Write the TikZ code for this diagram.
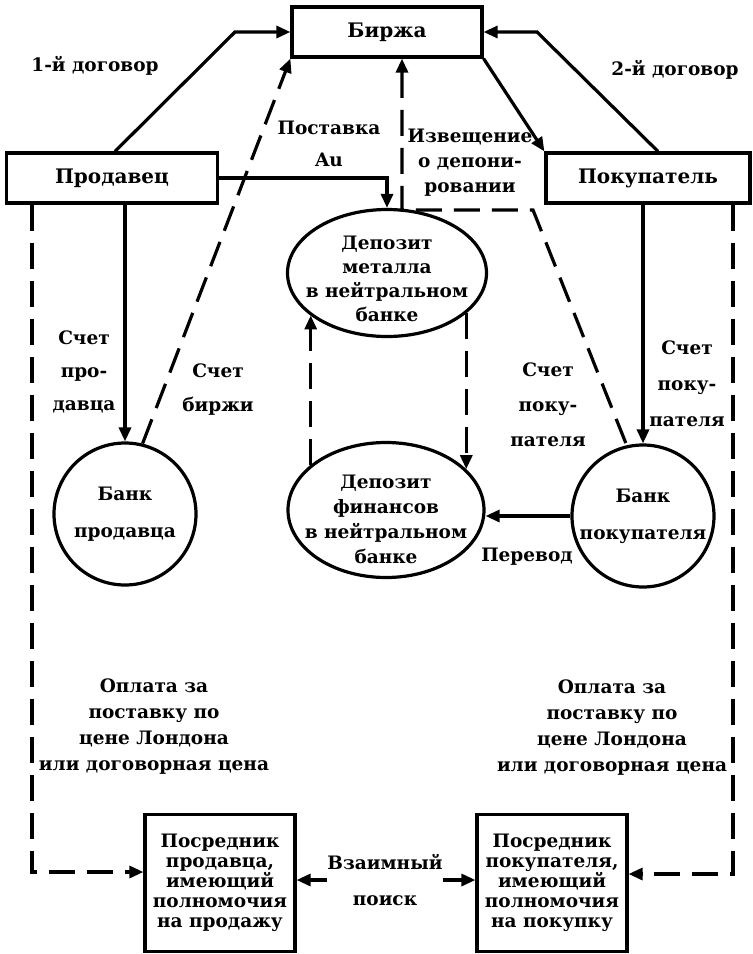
\documentclass[tikz,border=0pt]{standalone}
\usepackage{fontspec}
\setmainfont{DejaVu Serif}
\usepackage{tikz}
\usetikzlibrary{arrows.meta, calc, shapes.geometric, positioning}
\newcommand{\drawl}{\draw[line width=3.2pt]}
\newcommand{\drawd}{\draw[line width=3.2pt, dash pattern=on 26pt off 12pt]}
\newcommand{\sz}[1]{\fontsize{18.5}{#1}\selectfont\bfseries}

\begin{document}
\begin{tikzpicture}[x=1pt, y=-1pt, >={Triangle[length=14pt, width=12pt]},
  box/.style={draw, line width=3.2pt, minimum width=#1, minimum height=50pt, font=\fontsize{20}{24}\selectfont\bfseries},
  posr/.style={draw, line width=3.2pt, minimum width=150pt, minimum height=137pt, inner sep=0pt, font=\sz{20}, align=center},
  oval/.style={ellipse, draw, line width=3.2pt, inner sep=0pt},
  bank/.style={circle, draw, line width=3.2pt, minimum size=142pt, inner sep=0pt},
  txt/.style={font=\sz{#1}, align=center, inner sep=0pt}]
\useasboundingbox (0,0) rectangle (753,954);

%Участники
\node[box=190pt] (birzha) at (387,32) {Биржа};
\node[box=211pt] (prod) at (112,178) {Продавец};
\node[box=204pt] (pokup) at (648,178) {Покупатель};

%Депозиты
\node[oval, minimum width=199pt, minimum height=127pt,
  label={[txt=24, yshift=-6pt]center:{Депозит\\металла\\в нейтральном\\банке}}] (depmet) at (387,273) {};
\node[oval, minimum width=196pt, minimum height=135pt,
  label={[txt=25, yshift=-9pt]center:{Депозит\\финансов\\в нейтральном\\банке}}] (depfin) at (386,510) {};

%Банки
\node[bank, label={[txt=37]center:{Банк\\продавца}}] (bankprod) at (125,514) {};
\node[bank, label={[txt=37]center:{Банк\\покупателя}}] (bankpok) at (643,516) {};

%Посредники
\node[posr] (posprod) at (220,883) {Посредник\\продавца,\\имеющий\\полномочия\\на продажу};
\node[posr] (pospok) at (552,883) {Посредник\\покупателя,\\имеющий\\полномочия\\на покупку};

%Надписи
\node[txt=25] (dog1) at (95,66) {1-й договор};
\node[txt=25] (dog2) at (675,70) {2-й договор};
\node[txt=32] (postavka) at (329,144) {Поставка\\Au};
\node[txt=25] (izv) at (470,163) {Извещение\\о депони-\\ровании};
\node[txt=33] (schprod) at (84,372) {Счет\\про-\\давца};
\node[txt=34] (schbir) at (218,390) {Счет\\биржи};
\node[txt=35] (schpok1) at (548,405) {Счет\\поку-\\пателя};
\node[txt=36] (schpok2) at (687,384) {Счет\\поку-\\пателя};
\node[txt=25] (perevod) at (527,557) {Перевод};
\node[txt=26] (opl1) at (154,727) {Оплата за\\поставку по\\цене Лондона\\или договорная цена};
\node[txt=26] (opl2) at (612,728) {Оплата за\\поставку по\\цене Лондона\\или договорная цена};
\node[txt=36] (poisk) at (385,880) {Взаимный\\поиск};

%Договоры
\coordinate (k1) at (235,32);
\coordinate (k2) at (537,32);
\drawl[->] ([xshift=3pt]prod.north) -- (k1) -- (birzha.west);
\drawl[->] ([xshift=10pt]pokup.north) -- (k2) -- (birzha.east);
\drawl[->] (birzha.south east) -- (pokup.north west);

%Поставка и счета
\drawl[->] (prod.east) -| (depmet.north);
\drawl[->] (bankprod.north |- prod.south) -- (bankprod.north);
\drawl[->] (bankpok.north |- pokup.south) -- (bankpok.north);
\drawl[->] (bankpok.west) -- (bankpok.west -| depfin.east);

%Пунктиры
\coordinate (iz1) at (402,210);
\coordinate (iz2) at (533,210);
\drawd[->] (bankprod.76) -- (birzha.south west);
\drawd[<-] (birzha.south -| iz1) -- (iz1) -- (iz2) -- (bankpok.103);
\drawd[->] (depmet.-27) -- (depmet.-27 |- depfin.27);
\drawd[->] (depfin.149) -- (depfin.149 |- depmet.-151);

%Оплата
\coordinate (lk) at (32,872);
\coordinate (rk) at (733,874);
\drawd[->] (prod.south -| lk) -- (lk) -- (lk -| posprod.west);
\drawd[->] (pokup.south -| rk) -- (rk) -- (rk -| pospok.east);

%Взаимный поиск
\drawl[->] (poisk.west) -- (poisk.west -| posprod.east);
\drawl[->] (poisk.east) -- (poisk.east -| pospok.west);
\end{tikzpicture}
\end{document}
